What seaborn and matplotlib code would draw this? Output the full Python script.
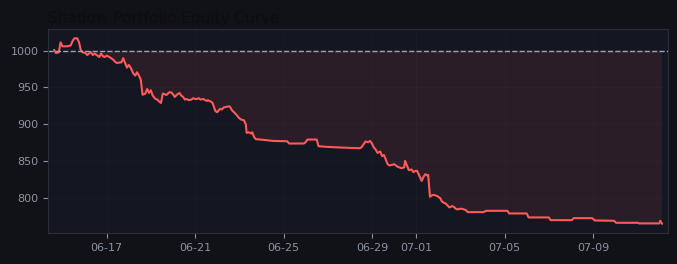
import numpy as np
import pandas as pd
import seaborn as sns
import matplotlib.pyplot as plt
import matplotlib.dates as mdates

# equity curve points (year is arbitrary)
timestamps = [
    '06-14 15:00', '06-14 17:00', '06-14 20:00', '06-14 22:00', '06-15 00:00', '06-15 02:00',
    '06-15 06:00', '06-15 09:00', '06-15 11:00', '06-15 13:00', '06-15 16:00', '06-15 18:00',
    '06-15 20:00', '06-15 22:00', '06-16 01:00', '06-16 03:00', '06-16 05:00', '06-16 07:00',
    '06-16 09:00', '06-16 11:00', '06-16 14:00', '06-16 16:00', '06-16 18:00', '06-16 20:00',
    '06-16 22:00', '06-17 00:00', '06-17 03:00', '06-17 05:00', '06-17 07:00', '06-17 09:00',
    '06-17 11:00', '06-17 16:00', '06-17 18:00', '06-17 20:00', '06-17 22:00', '06-18 00:00',
    '06-18 02:00', '06-18 05:00', '06-18 07:00', '06-18 09:00', '06-18 11:00', '06-18 13:00',
    '06-18 15:00', '06-18 18:00', '06-18 20:00', '06-18 22:00', '06-19 00:00', '06-19 02:00',
    '06-19 05:00', '06-19 07:00', '06-19 09:00', '06-19 11:00', '06-19 13:00', '06-19 15:00',
    '06-19 17:00', '06-19 20:00', '06-19 22:00', '06-20 00:00', '06-20 02:00', '06-20 04:00',
    '06-20 07:00', '06-20 09:00', '06-20 11:00', '06-20 13:00', '06-20 15:00', '06-20 17:00',
    '06-20 20:00', '06-20 22:00', '06-21 00:00', '06-21 02:00', '06-21 04:00', '06-21 06:00',
    '06-21 09:00', '06-21 11:00', '06-21 13:00', '06-21 14:00', '06-21 17:00', '06-21 19:00',
    '06-21 22:00', '06-22 00:00', '06-22 03:00', '06-22 05:00', '06-22 07:00', '06-22 10:00',
    '06-22 13:00', '06-22 14:00', '06-22 16:00', '06-22 19:00', '06-22 21:00', '06-23 00:00',
    '06-23 02:00', '06-23 05:00', '06-23 07:00', '06-23 08:00', '06-23 10:00', '06-23 13:00',
    '06-23 14:00', '06-23 16:00', '06-23 18:00', '06-23 23:00', '06-24 13:00', '06-25 04:00',
    '06-25 06:00', '06-25 22:00', '06-26 00:00', '06-26 02:00', '06-26 12:00', '06-26 14:00',
    '06-27 00:00', '06-27 13:00', '06-28 11:00', '06-28 13:00', '06-28 15:00', '06-28 17:00',
    '06-28 20:00', '06-28 22:00', '06-29 00:00', '06-29 02:00', '06-29 04:00', '06-29 06:00',
    '06-29 09:00', '06-29 11:00', '06-29 13:00', '06-29 15:00', '06-29 17:00', '06-29 19:00',
    '06-29 22:00', '06-30 00:00', '06-30 02:00', '06-30 04:00', '06-30 06:00', '06-30 08:00',
    '06-30 11:00', '06-30 12:00', '06-30 14:00', '06-30 16:00', '06-30 19:00', '06-30 21:00',
    '06-30 23:00', '07-01 01:00', '07-01 03:00', '07-01 06:00', '07-01 08:00', '07-01 10:00',
    '07-01 12:00', '07-01 13:00', '07-01 15:00', '07-01 17:00', '07-01 19:00', '07-01 21:00',
    '07-01 23:00', '07-02 02:00', '07-02 04:00', '07-02 06:00', '07-02 08:00', '07-02 10:00',
    '07-02 12:00', '07-02 15:00', '07-02 17:00', '07-02 19:00', '07-02 21:00', '07-02 23:00',
    '07-03 02:00', '07-03 06:00', '07-03 08:00', '07-04 01:00', '07-04 04:00', '07-05 03:00',
    '07-05 05:00', '07-06 00:00', '07-06 02:00', '07-07 00:00', '07-07 02:00', '07-08 01:00',
    '07-08 03:00', '07-08 23:00', '07-09 02:00', '07-09 23:00', '07-10 01:00', '07-11 01:00',
    '07-11 02:00', '07-12 00:00', '07-12 01:00', '07-12 03:00',
]
equity = [
    1001, 996.7, 997.7, 1011.3, 1005.8, 1005.8,
    1006, 1007, 1013, 1016.7, 1016.7, 1011.3,
    1000.4, 997.7, 996.7, 994, 996, 997.7,
    994, 996, 993.2, 991.3, 996, 992.3,
    991.3, 993.2, 991.3, 989.6, 987.8, 985.1,
    983.2, 984.1, 989.6, 983.2, 976.9, 980.5,
    976.9, 968.8, 966.1, 970.6, 966.1, 960.7,
    940, 941.7, 947.9, 942.5, 946.1, 938.9,
    934.3, 933.5, 930.8, 928.9, 941.7, 940.7,
    939.8, 943.4, 943.4, 940.7, 937, 939.8,
    942.5, 938.9, 937, 933.5, 934.3, 932.6,
    933.5, 935.3, 934.3, 934.3, 935.3, 933.5,
    934.3, 932.6, 931.6, 932.6, 930.8, 928.9,
    918, 916.3, 920.8, 920, 922.7, 923.5,
    924.4, 923.5, 919, 915.3, 912.6, 908.1,
    906.4, 905.4, 900, 888.2, 889.1, 887.4,
    889.1, 882.8, 879.6, 879.2, 877.3, 876.9,
    873.8, 873.8, 875.6, 879.2, 879.2, 870.1,
    869.2, 868.4, 867.4, 869.2, 872.9, 876.5,
    875.6, 877.3, 873.8, 868.4, 865.7, 861.1,
    863, 856.6, 858.3, 852.1, 845.7, 844,
    844.8, 845.7, 844, 842.1, 841.3, 840.3,
    841.3, 850.2, 844, 837.6, 838.5, 834.9,
    836.6, 836.6, 831.2, 823.1, 828.5, 832.2,
    830.4, 831.2, 801.4, 803.3, 804.1, 803.3,
    802.3, 799.6, 795.1, 793.2, 792.4, 789.7,
    787, 788.7, 787.8, 785.1, 784.3, 785.1,
    785.1, 783.3, 780.6, 780.6, 782.4, 782.4,
    778.8, 778.8, 773.4, 773.4, 769.7, 769.7,
    772.4, 772.4, 769.3, 768.8, 766.1, 766.1,
    765.3, 765.3, 768.8, 764.7,
]
start_equity = 1000
x_ticks = ['06-17', '06-21', '06-25', '06-29', '07-01', '07-05', '07-09']
y_ticks = [800, 850, 900, 950, 1000]

df = pd.DataFrame({
    'time': pd.to_datetime(['2024-' + t for t in timestamps], format='%Y-%m-%d %H:%M'),
    'equity': equity,
})

bg = '#111217'
panel = '#141722'
red = '#ff5a5a'
muted = '#8a92a3'

sns.set_theme(style='dark')
plt.rcParams['font.family'] = ['DejaVu Sans']

fig, ax = plt.subplots(figsize=(6.77, 2.64), dpi=100)
fig.patch.set_facecolor(bg)
ax.set_facecolor(panel)

sns.lineplot(data=df, x='time', y='equity', color=red, linewidth=1.5, ax=ax)
ax.fill_between(df['time'], df['equity'], start_equity,
                where=df['equity'] < start_equity, interpolate=True,
                color=red, alpha=0.1, linewidth=0)
ax.axhline(start_equity, color='#9aa3b5', linestyle='--', linewidth=1)

ax.set_xmargin(0.01)
tick_dates = pd.to_datetime(['2024-' + t for t in x_ticks])
ax.set_xticks(mdates.date2num(tick_dates))
ax.xaxis.set_major_formatter(mdates.DateFormatter('%m-%d'))
ax.set_yticks(y_ticks)

ax.grid(True, color='#181b26', linewidth=0.8)
ax.set_xlabel('')
ax.set_ylabel('')
ax.tick_params(colors=muted, labelsize=8, length=3.5, width=0.8, bottom=True, left=True)
for s in ax.spines.values():
    s.set_color('#2a2e3a')
    s.set_linewidth(0.8)

ax.set_title('Shadow Portfolio Equity Curve', loc='left', fontsize=11, color='#0d0d10', pad=4)

fig.subplots_adjust(left=0.071, right=0.987, top=0.89, bottom=0.117)
fig.savefig('out.png', facecolor=bg)
